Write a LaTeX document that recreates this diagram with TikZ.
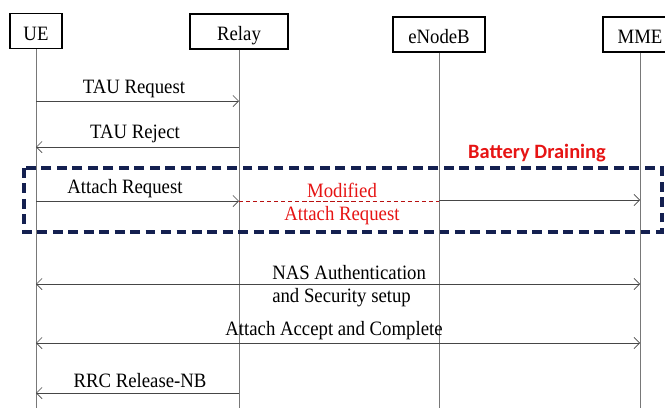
\documentclass[tikz,border=0pt]{standalone}
\usepackage{fontspec}
\setmainfont{Liberation Serif}[FakeStretch=0.92]
\newfontfamily\calibri{Carlito}
\usetikzlibrary{arrows.meta}

\definecolor{lifegray}{RGB}{120,120,120}
\definecolor{msggray}{RGB}{70,70,70}
\definecolor{boxnavy}{RGB}{20,32,80}
\definecolor{warnred}{RGB}{230,20,20}

\tikzset{
  entity/.style={draw=black, line width=0.8pt, minimum height=35*0.025cm, inner sep=0pt,
    text height=13pt, text depth=0pt, font=\fontsize{14.5}{16}\selectfont},
  lifeline/.style={draw=lifegray, line width=0.5pt},
  msg/.style={draw=msggray, line width=0.5pt, -{Straight Barb[length=4pt,width=8pt]}},
  biway/.style={draw=msggray, line width=0.5pt, {Straight Barb[length=4pt,width=8pt]}-{Straight Barb[length=4pt,width=8pt]}},
  msglabel/.style={font=\fontsize{14.5}{16}\selectfont, inner sep=0pt},
  redlabel/.style={font=\fontsize{14.5}{16}\selectfont, inner sep=0pt, text=warnred}
}

\begin{document}
\begin{tikzpicture}[x=0.025cm, y=-0.025cm]
  \useasboundingbox (0,0) rectangle (665,408);
  \clip (0,0) rectangle (665,408);

  % entities
  \node[entity, minimum width=52*0.025cm] (ue) at (36,31) {UE};
  \node[entity, minimum width=98*0.025cm] (relay) at (239,31.5) {Relay};
  \node[entity, minimum width=92*0.025cm] (enb) at (439,34.5) {eNodeB};
  \node[entity, minimum width=74*0.025cm] (mme) at (640,34.5) {MME};

  % lifelines
  \draw[lifeline] (ue.south) -- (ue.south |- 0,410);
  \draw[lifeline] (relay.south) -- (relay.south |- 0,410);
  \draw[lifeline] (enb.south) -- (enb.south |- 0,410);
  \draw[lifeline] (mme.south) -- (mme.south |- 0,410);

  % TAU
  \draw[msg] (ue |- 0,101) -- (relay |- 0,101);
  \node[msglabel] (tauReq) at (134,89) {TAU Request};
  \draw[msg] (relay |- 0,147) -- (ue |- 0,147);
  \node[msglabel] (tauRej) at (135,134) {TAU Reject};

  % attack zone
  \node[font=\calibri\bfseries\fontsize{14.5}{16}\selectfont, text=warnred, inner sep=0pt] (drain) at (537,153) {Battery Draining};
  \draw[boxnavy, line width=2.2pt, dash pattern=on 7pt off 4pt] (24,168) rectangle (662,232);

  \draw[msg] (ue |- 0,201) -- (relay |- 0,201);
  \node[msglabel] (attReq) at (125,189) {Attach Request};
  \draw[warnred!80!black, line width=0.5pt, dash pattern=on 3pt off 2pt] (relay |- 0,201) -- (enb |- 0,201);
  \draw[msg] (enb |- 0,200) -- (mme |- 0,200);
  \node[redlabel] (modA) at (342,190) {Modified};
  \node[redlabel] (modB) at (342,216) {Attach Request};

  % NAS
  \draw[biway] (ue |- 0,284) -- (mme |- 0,284);
  \node[msglabel, anchor=west] (nasA) at (272,273) {NAS Authentication};
  \node[msglabel, anchor=west] (nasB) at (272,298) {and Security setup};

  \draw[biway] (ue |- 0,343) -- (mme |- 0,343);
  \node[msglabel] (accept) at (334,331) {Attach Accept and Complete};

  \draw[msg] (relay |- 0,393) -- (ue |- 0,393);
  \node[msglabel] (rrc) at (140,381) {RRC Release-NB};
\end{tikzpicture}
\end{document}
